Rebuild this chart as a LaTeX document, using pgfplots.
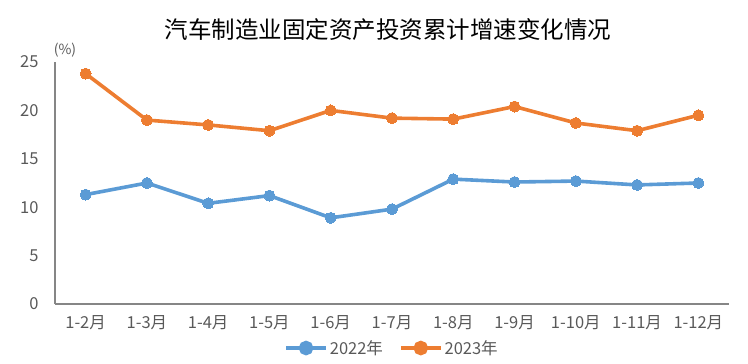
\documentclass[border=0pt]{standalone}
\usepackage{fontspec}
\setmainfont{Noto Sans CJK SC}
\usepackage{pgfplots}
\pgfplotsset{compat=1.18}
\definecolor{cblue}{HTML}{5B9BD5}
\definecolor{corange}{HTML}{ED7D31}
\definecolor{tgray}{HTML}{595959}
\definecolor{agray}{HTML}{868686}
\begin{document}
\begin{tikzpicture}
\useasboundingbox (-55pt,-60pt) rectangle (693pt,304pt);
\begin{axis}[
  at={(0,0)}, anchor=south west,
  scale only axis, width=674pt, height=242pt,
  xmin=-0.5, xmax=10.5, ymin=0, ymax=25,
  xtick={0,...,10},
  xticklabels={1-2月,1-3月,1-4月,1-5月,1-6月,1-7月,1-8月,1-9月,1-10月,1-11月,1-12月},
  ytick={0,5,10,15,20,25},
  axis x line*=bottom, axis y line*=left,
  axis line style={agray, line width=1.6pt, -},
  tick style={draw=none},
  /pgf/number format/assume math mode=true,
  ticklabel style={font=\fontsize{16.5}{18}\selectfont, text=tgray},
  yticklabel style={xshift=-13pt},
  xticklabel style={yshift=-8pt},
  legend style={at={(0.5,-0.182)}, anchor=center, draw=none, fill=none,
    legend columns=2, font=\fontsize{16.5}{18}\selectfont, text=tgray,
    /tikz/every even column/.append style={column sep=14pt}},
  legend image code/.code={
    \draw[#1, mark=none] (0pt,0pt) -- (40pt,0pt);
    \fill[#1] (20pt,0pt) circle (5.5pt);
  },
]
\addplot[color=cblue, line width=3.6pt, mark=*, mark size=5.5pt, mark options={solid, fill=cblue, draw=cblue, line width=0pt}]
coordinates {(0,11.3) (1,12.5) (2,10.4) (3,11.2) (4,8.9) (5,9.8) (6,12.9) (7,12.6) (8,12.7) (9,12.3) (10,12.5)};
\addlegendentry{2022年}
\addplot[color=corange, line width=3.6pt, mark=*, mark size=5.5pt, mark options={solid, fill=corange, draw=corange, line width=0pt}]
coordinates {(0,23.8) (1,19.0) (2,18.5) (3,17.9) (4,20.0) (5,19.2) (6,19.1) (7,20.4) (8,18.7) (9,17.9) (10,19.5)};
\addlegendentry{2023年}
\end{axis}
\node[text=black, font=\fontsize{23.5}{25}\selectfont] at (333pt,274pt) {汽车制造业固定资产投资累计增速变化情况};
\node[text=tgray, font=\fontsize{14}{15}\selectfont] at (10pt,254pt) {(\%)};
\end{tikzpicture}
\end{document}
